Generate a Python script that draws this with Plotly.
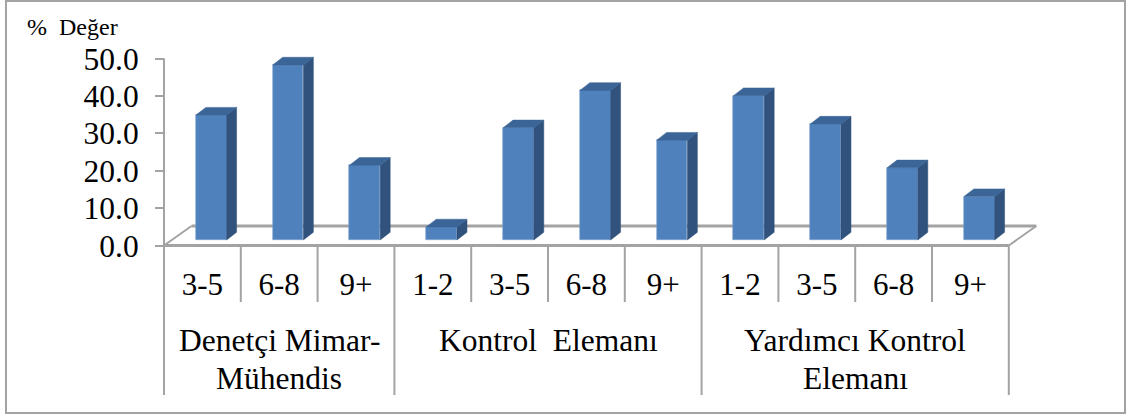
import plotly.graph_objects as go

# ---- data ----
group_lines = [["Denetçi Mimar-", "Mühendis"], ["Kontrol  Elemanı"], ["Yardımcı Kontrol", "Elemanı"]]
group_sizes = [3, 4, 4]
categories = ["3-5", "6-8", "9+", "1-2", "3-5", "6-8", "9+", "1-2", "3-5", "6-8", "9+"]
values = [33.4, 46.8, 20.0, 3.5, 30.0, 40.0, 26.7, 38.6, 31.0, 19.3, 11.6]
y_ticks = [0, 10, 20, 30, 40, 50]

# ---- geometry ----
W, H = 1130, 416
X0_PX, SLOT_PX = 164.0, 76.8
Y0_PX, UNIT_PX = 245.5, 3.74
FONT = "Liberation Serif, Times New Roman, serif"
GREY = "#a3a3a3"
FRONT, SIDE, TOP = "#4f81bd", "#30527c", "#3b6596"

BAR_W = 0.40
BAR_OFF = 0.615
BASE = 5.5 / UNIT_PX
DX, DY = 10 / SLOT_PX, 7.7 / UNIT_PX
FLOOR_DX, FLOOR_DY = 27.5 / SLOT_PX, 19.5 / UNIT_PX

n = len(categories)
centers = [i + BAR_OFF for i in range(n)]

fig = go.Figure()

side_x, side_y, top_x, top_y = [], [], [], []
for c, v in zip(centers, values):
    r, l = c + BAR_W / 2, c - BAR_W / 2
    t = BASE + v
    side_x += [r, r + DX, r + DX, r, r, None]
    side_y += [BASE, BASE + DY, t + DY, t, BASE, None]
    top_x += [l, l + DX, r + DX, r, l, None]
    top_y += [t, t + DY, t + DY, t, t, None]

fig.add_trace(go.Scatter(x=side_x, y=side_y, mode="lines", fill="toself", fillcolor=SIDE,
                         line=dict(color=SIDE, width=0.5), hoverinfo="skip", showlegend=False))
fig.add_trace(go.Scatter(x=top_x, y=top_y, mode="lines", fill="toself", fillcolor=TOP,
                         line=dict(color=TOP, width=0.5), hoverinfo="skip", showlegend=False))
fig.add_trace(go.Bar(x=centers, y=values, base=BASE, width=BAR_W,
                     marker=dict(color=FRONT, line=dict(color="#7fa3d0", width=0.6)),
                     showlegend=False))

shapes = []
def line(x0, y0, x1, y1, w=2):
    shapes.append(dict(type="line", xref="x", yref="y", x0=x0, y0=y0, x1=x1, y1=y1,
                       line=dict(color=GREY, width=w), layer="below"))

# value axis and floor
line(0, 0, 0, y_ticks[-1])
line(0, 0, n, 0, 3)
line(FLOOR_DX, FLOOR_DY, n + FLOOR_DX, FLOOR_DY, 3)
line(0, 0, FLOOR_DX, FLOOR_DY)
line(n, 0, n + FLOOR_DX, FLOOR_DY)

# multi-level category separators
tier1_end = (Y0_PX - 302) / UNIT_PX
tier2_end = (Y0_PX - 395) / UNIT_PX
edges = [0]
for s in group_sizes:
    edges.append(edges[-1] + s)
for i in range(n + 1):
    if i not in edges:
        line(i, 0, i, tier1_end)
for e in edges:
    line(e, 0, e, tier2_end)

# outer frame
shapes.append(dict(type="rect", xref="paper", yref="paper",
                   x0=6 / W, x1=1125 / W, y0=1 - 413 / H, y1=1 - 1 / H,
                   line=dict(color=GREY, width=2), layer="below"))

annotations = [dict(x=25 / W, y=1 - 27 / H, xref="paper", yref="paper", text="%  Değer",
                    showarrow=False, xanchor="left", yanchor="middle",
                    font=dict(family=FONT, size=24, color="#000000"))]
for i, lines in enumerate(group_lines):
    for k, txt in enumerate(lines):
        annotations.append(dict(x=(edges[i] + edges[i + 1]) / 2, y=(Y0_PX - (340 + 38 * k)) / UNIT_PX,
                                xref="x", yref="y", text=txt, showarrow=False,
                                xanchor="center", yanchor="middle",
                                font=dict(family=FONT, size=31.5, color="#000000")))

fig.update_layout(
    width=W, height=H, margin=dict(l=0, r=0, t=0, b=0),
    paper_bgcolor="white", plot_bgcolor="rgba(0,0,0,0)",
    shapes=shapes, annotations=annotations, bargap=0,
    xaxis=dict(domain=[0, 1], range=[-X0_PX / SLOT_PX, (W - X0_PX) / SLOT_PX],
               anchor="free", position=1 - Y0_PX / H,
               tickmode="array", tickvals=[i + 0.5 for i in range(n)], ticktext=categories,
               showgrid=False, zeroline=False, showline=False, ticks="",
               ticklabelstandoff=17,
               tickfont=dict(family=FONT, size=31, color="#000000")),
    yaxis=dict(domain=[0, 1], range=[-(H - Y0_PX) / UNIT_PX, Y0_PX / UNIT_PX],
               anchor="free", position=X0_PX / W,
               tickmode="array", tickvals=y_ticks, ticktext=[f"{v:.1f}" for v in y_ticks],
               showgrid=False, zeroline=False, showline=False,
               ticks="outside", ticklen=9, tickwidth=2, tickcolor=GREY,
               ticklabelstandoff=10,
               tickfont=dict(family=FONT, size=31.5, color="#000000")),
)

fig.write_html("out.html", config=dict(displayModeBar=False),
               post_script="document.body.style.margin='0';")
